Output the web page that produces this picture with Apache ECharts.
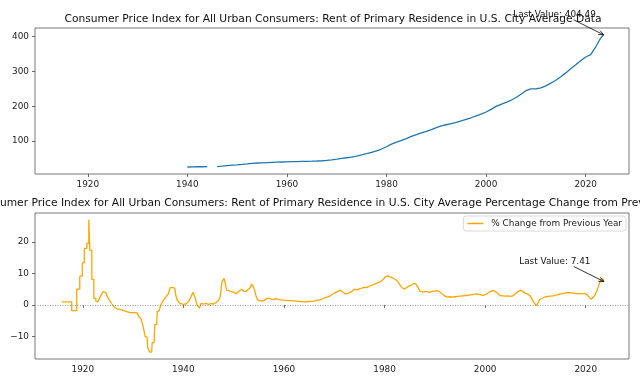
<!DOCTYPE html>
<html>
<head>
<meta charset="utf-8">
<script src="https://cdn.jsdelivr.net/npm/echarts@6/dist/echarts.min.js"></script>
<style>
html,body{margin:0;padding:0;background:#fff;}
#chart{width:640px;height:384px;}
</style>
</head>
<body>
<div id="chart"></div>
<script>
// ---- data ----
const cpiYears = [1940,1941,1942,1943,1944,1945,1946,1947,1948,1949,1950,1951,1952,1953,1954,1955,1956,1957,1958,1959,
  1960,1961,1962,1963,1964,1965,1966,1967,1968,1969,1970,1971,1972,1973,1974,1975,1976,1977,1978,1979,
  1980,1981,1982,1983,1984,1985,1986,1987,1988,1989,1990,1991,1992,1993,1994,1995,1996,1997,1998,1999,
  2000,2001,2002,2003,2004,2005,2006,2007,2008,2009,2010,2011,2012,2013,2014,2015,2016,2017,2018,2019,
  2020,2021,2022,2023,2023.6];
const cpiValues = [26.0,26.3,26.7,26.8,26.9,null,27.3,28.5,30.0,31.2,32.3,33.5,34.9,36.5,37.5,38.0,38.6,39.2,39.8,40.3,
  40.8,41.2,41.6,42.0,42.3,42.7,43.2,44.0,45.0,46.5,48.5,50.6,52.5,54.6,57.5,60.5,64.0,68.0,72.5,77.5,
  84.0,91.5,97.5,102.0,107.5,113.5,119.0,123.5,128.0,133.0,138.5,143.5,147.0,150.5,154.0,158.0,162.5,167.0,172.5,177.5,
  183.5,191.0,199.5,205.5,211.0,217.0,225.0,234.5,244.5,249.5,249.5,252.5,258.5,266.0,274.5,284.5,295.5,307.0,318.5,330.5,
  341.0,348.0,369.5,395.0,404.49];

const pctYears = [1915.8,1917.8,1917.8,1918.8,1918.8,1919.4,1919.4,1919.9,1919.9,1920.3,1920.3,1920.8,1920.8,1921.2,1921.2,1921.4,1921.4,1921.8,1921.8,1922.2,
  1922.2,1922.6,1922.6,1923.0,1923.3,1923.6,1924.0,1924.6,1924.9,1925.3,1925.8,1926.3,1926.8,1927.5,1928.2,1928.9,1929.5,1930.2,1930.8,1931.1,
  1931.6,1932.0,1932.3,1932.4,1932.8,1932.9,1933.3,1933.7,1933.8,1934.2,1934.3,1934.7,1934.8,1935.2,1935.5,1936.0,1936.5,1937.0,1937.4,1937.9,
  1938.3,1938.5,1938.8,1939.3,1940.0,1940.5,1941.0,1941.5,1941.9,1942.1,1942.4,1942.7,1943.0,1943.2,1943.5,1944.0,1944.5,1945.0,1945.5,1946.0,
  1946.5,1947.0,1947.3,1947.7,1948.1,1948.3,1948.6,1949.0,1949.5,1950.0,1950.5,1950.8,1951.2,1951.6,1952.0,1952.4,1952.8,1953.2,1953.6,1953.9,
  1954.2,1954.5,1954.8,1955.2,1955.6,1956.0,1956.5,1957.0,1957.5,1958.0,1958.4,1958.8,1959.3,1960,1961,1962,1962.6,1963.2,1964,1965,
  1966,1967,1967.5,1968,1969,1969.6,1970.2,1970.7,1971.2,1971.7,1972.2,1972.6,1973,1973.5,1974,1974.5,1975,1975.5,1976,1976.5,
  1977,1977.5,1978,1978.6,1979.2,1979.8,1980.2,1980.6,1981.0,1981.5,1981.9,1982.4,1982.8,1983.3,1983.8,1984.3,1984.8,1985.3,1985.8,1986.2,
  1986.6,1987.0,1987.5,1988,1988.5,1989,1989.5,1990,1990.5,1991,1991.5,1992,1992.5,1993,1993.5,1994,1994.5,1995,1995.5,1996,
  1996.5,1997,1997.5,1998,1998.5,1999,1999.6,2000.2,2000.8,2001.5,2001.9,2002.5,2003,2003.5,2004,2004.5,2005,2005.5,2006,2006.5,
  2007,2007.5,2008,2008.5,2009,2009.4,2009.8,2010.2,2010.5,2010.9,2011.5,2012,2012.5,2013,2013.5,2014,2014.5,2015,2015.5,2016,
  2016.5,2017,2017.5,2018,2018.5,2019,2019.5,2019.9,2020.3,2020.7,2021.1,2021.4,2021.8,2022.2,2022.5,2022.8,2023.1,2023.3,2023.5,2023.6];
const pctValues = [1.0,1.0,-1.8,-1.8,5.0,5.0,9.1,9.1,13.3,13.3,17.9,17.9,19.5,19.5,27.0,27.0,17.3,17.3,8.1,8.1,
  2.1,2.1,1.2,1.0,2.0,3.0,4.2,3.9,2.5,1.5,0.3,-0.8,-1.2,-1.5,-1.8,-2.2,-2.4,-2.4,-2.5,-3.5,
  -4.5,-6.8,-6.8,-10.0,-10.2,-13.5,-14.9,-14.9,-11.9,-11.9,-6.2,-6.2,-2.1,-1.8,0.0,1.5,2.5,3.5,5.5,5.5,
  5.3,3.0,1.5,0.5,0.2,0.3,1.0,2.5,4.0,4.2,2.0,0.0,-0.5,-1.0,0.5,0.3,0.5,0.2,0.4,0.3,
  0.8,1.5,2.5,7.5,8.4,7.0,4.7,4.5,4.2,4.0,3.6,3.8,4.5,5.0,4.4,4.2,4.8,5.3,6.6,5.8,
  4.5,2.5,1.6,1.3,1.4,1.3,2.0,2.2,1.8,1.7,2.1,1.8,1.6,1.5,1.4,1.3,1.2,1.1,1.0,1.1,
  1.2,1.6,1.8,2.2,2.7,3.3,3.9,4.3,4.7,4.0,3.5,3.6,3.9,4.3,5.0,4.8,5.1,5.3,5.6,5.5,
  6.0,6.3,6.6,7.0,7.4,8.2,9.0,9.2,8.9,8.7,8.3,7.8,7.0,5.8,5.0,5.4,5.9,6.3,6.8,6.7,
  5.8,4.4,4.1,4.2,4.2,4.0,4.3,4.4,4.5,4.1,3.5,2.8,2.5,2.6,2.5,2.6,2.7,2.8,2.9,3.0,
  3.0,3.2,3.3,3.4,3.5,3.3,3.0,3.4,4.0,4.6,4.4,3.6,3.0,2.9,2.8,2.9,2.7,2.9,3.5,4.2,
  4.6,4.3,3.7,3.4,2.8,1.5,0.5,-0.2,0.2,1.8,2.2,2.6,2.7,2.8,2.9,3.1,3.3,3.5,3.6,3.8,
  3.9,3.8,3.8,3.6,3.6,3.5,3.6,3.6,3.2,2.4,1.8,1.9,3.0,4.5,5.8,7.2,8.3,8.8,8.0,7.41];

const xTicks = [1920,1940,1960,1980,2000,2020];
const cpiTicks = [100,200,300,400];
const pctTicks = [-10,0,10,20];
const topTitle = 'Consumer Price Index for All Urban Consumers: Rent of Primary Residence in U.S. City Average Data';
const bottomTitle = 'Consumer Price Index for All Urban Consumers: Rent of Primary Residence in U.S. City Average Percentage Change from Previous Year';
const legendName = '% Change from Previous Year';

// ---- build ----
const FONT = 'DejaVu Sans';
const SMALL = 8.9, TITLE = 10.7;
const cpiData = cpiYears.map((y,i)=>[y, cpiValues[i]===null ? '-' : cpiValues[i]]);
const pctData = pctYears.map((y,i)=>[y, pctValues[i]]);

const chart = echarts.init(document.getElementById('chart'), null, {renderer:'canvas'});

function xAxisCfg(idx, mn, mx){
  return {
    type:'value', gridIndex:idx, min:mn, max:mx,
    axisLine:{show:false},
    splitLine:{show:false},
    axisTick:{show:true, length:3, customValues:xTicks, lineStyle:{color:'#444', width:0.8}},
    axisLabel:{customValues:xTicks, fontFamily:FONT, fontSize:SMALL, color:'#222', margin:6,
      formatter: v => String(v)}
  };
}
function yAxisCfg(idx, mn, mx, ticks){
  return {
    type:'value', gridIndex:idx, min:mn, max:mx,
    axisLine:{show:false},
    splitLine:{show:false},
    axisTick:{show:true, length:3, customValues:ticks, lineStyle:{color:'#444', width:0.8}},
    axisLabel:{customValues:ticks, fontFamily:FONT, fontSize:SMALL, color:'#222', margin:6,
      formatter: v => (v<0 ? '\u2212'+Math.abs(v) : String(v))}
  };
}

const option = {
  animation:false,
  backgroundColor:'#fff',
  grid:[
    {left:35, top:28, width:594, height:146, show:true, borderColor:'#555', borderWidth:0.8, backgroundColor:'transparent'},
    {left:35, top:213, width:594, height:146, show:true, borderColor:'#555', borderWidth:0.8, backgroundColor:'transparent'}
  ],
  xAxis:[ xAxisCfg(0, 1909.4, 2028.7), xAxisCfg(1, 1910.5, 2028.6) ],
  yAxis:[ yAxisCfg(0, 6, 424, cpiTicks), yAxisCfg(1, -17.1, 29.1, pctTicks) ],
  legend:{
    data:[legendName], right:14, top:216,
    icon:'rect', itemWidth:16, itemHeight:1.5,
    padding:[3,4,3,4],
    borderColor:'#d0d0d0', borderWidth:0.8, borderRadius:3, backgroundColor:'rgba(255,255,255,0.8)',
    textStyle:{fontFamily:FONT, fontSize:SMALL, color:'#222', padding:[0,0,0,3]}
  },
  series:[
    {type:'line', name:'CPI', xAxisIndex:0, yAxisIndex:0, data:cpiData, showSymbol:false, symbol:'none',
     lineStyle:{color:'#1f77b4', width:1.3}, itemStyle:{color:'#1f77b4'}, connectNulls:false},
    {type:'line', name:legendName, xAxisIndex:1, yAxisIndex:1, data:pctData, showSymbol:false, symbol:'none',
     lineStyle:{color:'#ffa500', width:1.3}, itemStyle:{color:'#ffa500'},
     markLine:{silent:true, symbol:'none', label:{show:false},
       lineStyle:{type:[1,1.5], color:'#808080', width:0.8},
       data:[{yAxis:0}]}}
  ]
};
chart.setOption(option);

// ---- titles & annotations ----
function arrow(p, s){
  const dx = p[0]-s[0], dy = p[1]-s[1];
  const len = Math.sqrt(dx*dx+dy*dy);
  const ux = dx/len, uy = dy/len;
  const hl = 5, hw = 2.2;
  const bx = p[0]-ux*hl, by = p[1]-uy*hl;
  return [
    {type:'line', shape:{x1:s[0], y1:s[1], x2:p[0], y2:p[1]}, style:{stroke:'#000', lineWidth:0.8}, z:100},
    {type:'polyline', shape:{points:[[bx-uy*hw, by+ux*hw],[p[0],p[1]],[bx+uy*hw, by-ux*hw]]},
      style:{stroke:'#000', fill:null, lineWidth:0.8}, z:100}
  ];
}
const lastCpi = cpiData[cpiData.length-1];
const lastPct = pctData[pctData.length-1];
const p1 = chart.convertToPixel({gridIndex:0}, lastCpi);
const p2 = chart.convertToPixel({gridIndex:1}, lastPct);
const tOff = [-49, -20], sOff = [-30, -15];

const graphics = [
  {type:'text', x:333, y:19, style:{text:topTitle, fontFamily:FONT, fontSize:TITLE, fill:'#111', textAlign:'center', textVerticalAlign:'middle'}},
  {type:'text', x:333, y:203, style:{text:bottomTitle, fontFamily:FONT, fontSize:TITLE, fill:'#111', textAlign:'center', textVerticalAlign:'middle'}},
  {type:'text', x:p1[0]+tOff[0], y:p1[1]+tOff[1], style:{text:'Last Value: ' + lastCpi[1].toFixed(2), fontFamily:FONT, fontSize:SMALL, fill:'#111', textAlign:'center', textVerticalAlign:'middle'}, z:100},
  {type:'text', x:p2[0]+tOff[0], y:p2[1]+tOff[1], style:{text:'Last Value: ' + lastPct[1].toFixed(2), fontFamily:FONT, fontSize:SMALL, fill:'#111', textAlign:'center', textVerticalAlign:'middle'}, z:100}
].concat(arrow(p1, [p1[0]+sOff[0], p1[1]+sOff[1]]), arrow(p2, [p2[0]+sOff[0], p2[1]+sOff[1]]));
chart.setOption({graphic: graphics});
</script>
</body>
</html>
